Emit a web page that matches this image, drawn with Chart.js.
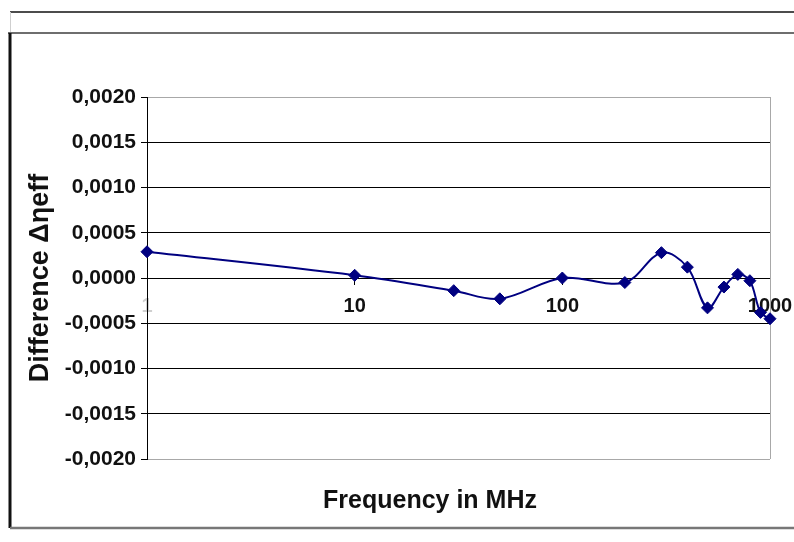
<!DOCTYPE html>
<html>
<head>
<meta charset="utf-8">
<title>Difference Δηeff vs frequency</title>
<script src="https://cdn.jsdelivr.net/npm/chart.js@4.4.1/dist/chart.umd.min.js"></script>
<style>
  html, body { margin: 0; padding: 0; background: #fff; }
  #wrap { width: 794px; height: 542px; }
</style>
</head>
<body>
<div id="wrap"><canvas id="c" width="794" height="542"></canvas></div>
<script>
// Measured frequencies (MHz) and the difference in effective index
const frequencies = [1, 10, 30, 50, 100, 200, 300, 400, 500, 600, 700, 800, 900, 1000];
const differences = [0.00029, 0.00003, -0.00014, -0.00023, 0.0, -0.00005, 0.00028, 0.00012, -0.00033, -0.0001, 0.00004, -0.00003, -0.00038, -0.00045];
const xTickValues = [1, 10, 100, 1000];
const yTickStep = 0.0005;
const yMin = -0.002;
const yMax = 0.002;

const FONT = "'Liberation Sans', Arial, sans-serif";

function formatComma(v) {
  if (Math.abs(v) < 1e-12) v = 0;
  return v.toFixed(4).replace('.', ',');
}

// Sheet frame, plot border and the horizontal axis caption
const framePlugin = {
  id: 'frame',
  beforeDatasetsDraw(chart) {
    const ctx = chart.ctx;
    const a = chart.chartArea;
    ctx.save();
    ctx.strokeStyle = '#a8a8a8';
    ctx.lineWidth = 1;
    ctx.beginPath();
    ctx.moveTo(a.right + 0.5, a.top);
    ctx.lineTo(a.right + 0.5, a.bottom);
    ctx.stroke();
    ctx.restore();
  },
  afterDraw(chart) {
    const ctx = chart.ctx;
    ctx.save();
    // top rule
    ctx.strokeStyle = '#111';
    ctx.lineWidth = 1.5;
    ctx.beginPath(); ctx.moveTo(10, 12); ctx.lineTo(794, 12); ctx.stroke();
    ctx.strokeStyle = '#cfcfcf';
    ctx.lineWidth = 1;
    ctx.beginPath(); ctx.moveTo(10.5, 12); ctx.lineTo(10.5, 33); ctx.stroke();
    // header separator
    ctx.strokeStyle = '#6e6e6e';
    ctx.lineWidth = 2;
    ctx.beginPath(); ctx.moveTo(8, 33); ctx.lineTo(794, 33); ctx.stroke();
    // left edge
    ctx.strokeStyle = '#111';
    ctx.lineWidth = 3;
    ctx.beginPath(); ctx.moveTo(10, 33); ctx.lineTo(10, 528); ctx.stroke();
    // bottom edge
    ctx.strokeStyle = '#777';
    ctx.lineWidth = 2.5;
    ctx.beginPath(); ctx.moveTo(10, 528); ctx.lineTo(794, 528); ctx.stroke();
    // horizontal axis caption
    ctx.fillStyle = '#111';
    ctx.font = 'bold 25px ' + FONT;
    ctx.textAlign = 'center';
    ctx.textBaseline = 'middle';
    ctx.fillText('Frequency in MHz', 430, 501);
    ctx.restore();
  }
};

new Chart(document.getElementById('c'), {
  type: 'line',
  data: {
    datasets: [{
      data: frequencies.map((f, i) => ({ x: f, y: differences[i] })),
      borderColor: '#000080',
      backgroundColor: '#000080',
      borderWidth: 2,
      pointStyle: 'rectRot',
      pointRadius: 6,
      pointBorderWidth: 1,
      tension: 0.35,
      fill: false,
      clip: 10
    }]
  },
  options: {
    responsive: false,
    animation: false,
    devicePixelRatio: 1,
    layout: { padding: { left: 0, top: 97, right: 24, bottom: 83 } },
    plugins: {
      legend: { display: false },
      tooltip: { enabled: false },
      title: { display: false }
    },
    scales: {
      x: {
        type: 'logarithmic',
        position: { y: 0 },
        min: 1,
        max: 1000,
        afterBuildTicks(scale) {
          scale.ticks = xTickValues.map(v => ({ value: v }));
        },
        afterFit(scale) {
          scale.paddingLeft = 0;
          scale.paddingRight = 0;
        },
        border: { display: true, color: '#000', width: 1 },
        grid: { drawOnChartArea: false, drawTicks: true, tickLength: 6, tickColor: '#000' },
        ticks: {
          autoSkip: false,
          maxRotation: 0,
          padding: 10,
          font: { family: FONT, size: 20, weight: 'bold' },
          color: (c) => c.index === 0 ? '#cfcfcf' : '#111',
          callback: (v) => String(v)
        }
      },
      y: {
        min: yMin,
        max: yMax,
        afterFit(scale) { scale.width = 147; },
        border: { display: true, color: '#000', width: 1 },
        grid: {
          color: (c) => (c.tick && (Math.abs(c.tick.value - yMax) < 1e-9 || Math.abs(c.tick.value - yMin) < 1e-9)) ? '#a8a8a8' : '#000',
          lineWidth: 1,
          drawTicks: true,
          tickLength: 6,
          tickColor: '#000'
        },
        ticks: {
          stepSize: yTickStep,
          padding: 5,
          font: { family: FONT, size: 21, weight: 'bold' },
          color: '#111',
          callback: (v) => formatComma(v)
        },
        title: {
          display: true,
          text: 'Difference Δηeff',
          font: { family: FONT, size: 27, weight: 'bold' },
          color: '#111',
          padding: { top: 24, bottom: 0 }
        }
      }
    }
  },
  plugins: [framePlugin]
});
</script>
</body>
</html>
